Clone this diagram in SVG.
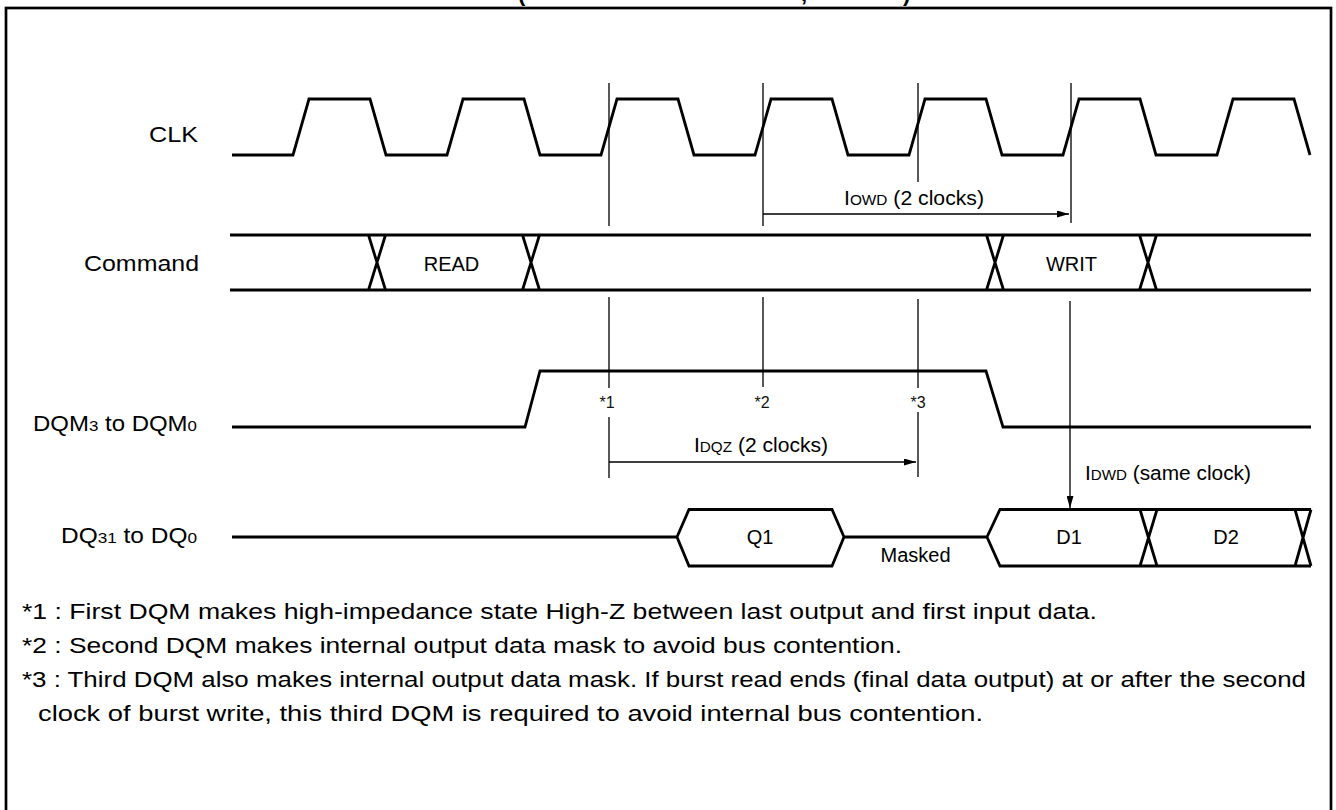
<svg xmlns="http://www.w3.org/2000/svg" width="1336" height="810" viewBox="0 0 1336 810">
<style>
  .sig{fill:none;stroke:#000;stroke-width:2.8;stroke-linejoin:miter}
  .thin{fill:none;stroke:#000;stroke-width:1.3}
  .lbl{font-family:"Liberation Sans",Arial,sans-serif;font-size:22px;fill:#000}
  .in{font-family:"Liberation Sans",Arial,sans-serif;font-size:20px;fill:#000}
  .note{font-family:"Liberation Sans",Arial,sans-serif;font-size:22px;fill:#000}
  .star{font-family:"Liberation Sans",Arial,sans-serif;font-size:16px;fill:#111}
  .ttl{font-family:"Liberation Sans",Arial,sans-serif;font-size:22px;font-weight:bold;fill:#000}
</style>
<defs>
  <marker id="ah" viewBox="0 0 12 7" refX="12" refY="3.5" markerWidth="12" markerHeight="7" markerUnits="userSpaceOnUse" orient="auto">
    <path d="M0,0 L12,3.5 L0,7 Z" fill="#000"/>
  </marker>
</defs>
<rect width="1336" height="810" fill="#fff"/>
<g id="frame">
  <rect x="6" y="8" width="1325" height="900" fill="none" stroke="#000" stroke-width="2.7"/>
  <text class="ttl" x="518" y="0.5">(</text>
  <text class="ttl" x="801" y="0.5">,</text>
  <text class="ttl" x="903" y="0.5">)</text>
</g>
<g id="clk">
  <text class="lbl" x="149" y="142" textLength="49" lengthAdjust="spacingAndGlyphs">CLK</text>
  <path class="sig" d="M232,155 L293,155 L309,99 L370,99 L386,155 L447,155 L463,99 L524,99 L540,155 L601,155 L617,99 L678,99 L694,155 L755,155 L771,99 L832,99 L848,155 L909,155 L925,99 L986,99 L1002,155 L1063,155 L1079,99 L1140,99 L1156,155 L1217,155 L1233,99 L1294,99 L1310,155"/>
</g>
<g id="command">
  <text class="lbl" x="84" y="271" textLength="115" lengthAdjust="spacingAndGlyphs">Command</text>
  <path class="sig" d="M230,235 H1311 M230,290 H1311 M368.5,235 L385.5,290 M368.5,290 L385.5,235 M522.5,235 L539.5,290 M522.5,290 L539.5,235 M986.5,235 L1003.5,290 M986.5,290 L1003.5,235 M1139.5,235 L1156.5,290 M1139.5,290 L1156.5,235"/>
  <text class="in" x="451.5" y="271" text-anchor="middle">READ</text>
  <text class="in" x="1071.5" y="271" text-anchor="middle">WRIT</text>
</g>
<g id="dqm">
  <text class="lbl" x="33" y="431" textLength="164" lengthAdjust="spacingAndGlyphs">DQM<tspan font-size="15.5">3</tspan> to DQM<tspan font-size="15.5">0</tspan></text>
  <path class="sig" d="M232,427 L525,427 L540,371 L986,371 L1003,427 L1311,427"/>
  <text class="star" x="607" y="408" text-anchor="middle">*1</text>
  <text class="star" x="762" y="408" text-anchor="middle">*2</text>
  <text class="star" x="918" y="408" text-anchor="middle">*3</text>
</g>
<g id="dq">
  <text class="lbl" x="61" y="543" textLength="136" lengthAdjust="spacingAndGlyphs">DQ<tspan font-size="15.5">31</tspan> to DQ<tspan font-size="15.5">0</tspan></text>
  <path class="sig" d="M232,537 L677,537 M677,537 L689,509.5 L832,509.5 L844,537 L832,566 L689,566 Z M844,537 L987,537 M1311,509.5 L1000,509.5 L987,537 L1000,566 L1311,566 M1140,509.5 L1157,566 M1140,566 L1157,509.5 M1295,509.5 L1311,566 M1295,566 L1311,509.5"/>
  <text class="in" x="760" y="544" text-anchor="middle">Q1</text>
  <text class="in" x="1069" y="544" text-anchor="middle">D1</text>
  <text class="in" x="1226" y="544" text-anchor="middle">D2</text>
  <text class="in" x="915.5" y="562" text-anchor="middle">Masked</text>
</g>
<g id="connectors">
  <path class="thin" d="M609,83 V226 M763,83 V226 M918,83 V182 M1071,83 V223 M609,297 V388 M609,417 V478 M763,297 V387 M918,299 V388 M918,412 V477"/>
  <path class="thin" d="M763,214 H1069" marker-end="url(#ah)"/>
  <path class="thin" d="M609,462 H916" marker-end="url(#ah)"/>
  <path class="thin" d="M1070,301 V508" marker-end="url(#ah)"/>
</g>
<g id="timing-labels">
  <text class="in" x="844" y="205" textLength="140" lengthAdjust="spacingAndGlyphs">I<tspan font-size="14.5">OWD</tspan> (2 clocks)</text>
  <text class="in" x="694" y="452" textLength="134" lengthAdjust="spacingAndGlyphs">I<tspan font-size="14.5">DQZ</tspan> (2 clocks)</text>
  <text class="in" x="1085" y="480" textLength="166" lengthAdjust="spacingAndGlyphs">I<tspan font-size="14.5">DWD</tspan> (same clock)</text>
</g>
<g id="notes">
  <text class="note" x="22" y="619" textLength="1075" lengthAdjust="spacingAndGlyphs">*1 : First DQM makes high-impedance state High-Z between last output and first input data.</text>
  <text class="note" x="22" y="653" textLength="880" lengthAdjust="spacingAndGlyphs">*2 : Second DQM makes internal output data mask to avoid bus contention.</text>
  <text class="note" x="22" y="687" textLength="1284" lengthAdjust="spacingAndGlyphs">*3 : Third DQM also makes internal output data mask. If burst read ends (final data output) at or after the second</text>
  <text class="note" x="38" y="721" textLength="945" lengthAdjust="spacingAndGlyphs">clock of burst write, this third DQM is required to avoid internal bus contention.</text>
</g>
</svg>
